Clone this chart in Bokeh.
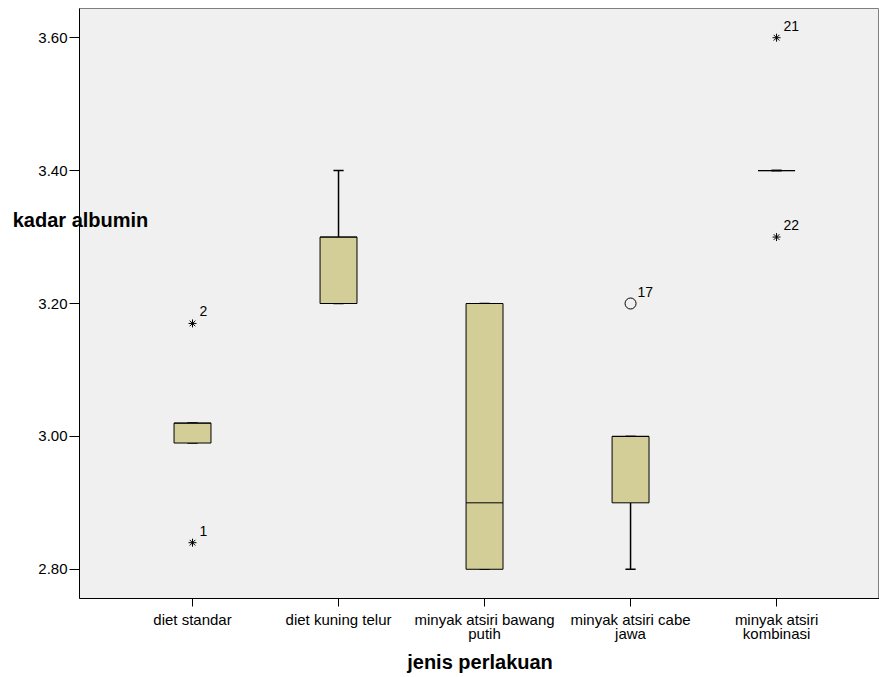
from bokeh.plotting import figure
from bokeh.models import Range1d, FixedTicker, Label
from bokeh.core.properties import value
from bokeh.embed import file_html
from bokeh.resources import INLINE

# ---- data ----
categories = ["diet standar", "diet kuning telur", "minyak atsiri bawang\nputih",
              "minyak atsiri cabe\njawa", "minyak atsiri\nkombinasi"]
q1 = [2.99, 3.20, 2.80, 2.90, 3.40]
median = [3.02, 3.30, 2.90, 3.00, 3.40]
q3 = [3.02, 3.30, 3.20, 3.00, 3.40]
whisker_low = [2.99, 3.20, 2.80, 2.80, 3.40]
whisker_high = [3.02, 3.40, 3.20, 3.00, 3.40]

outlier_group = [0, 0, 3, 4, 4]
outlier_value = [2.84, 3.17, 3.20, 3.60, 3.30]
outlier_label = ["1", "2", "17", "21", "22"]
outlier_extreme = [True, True, False, True, True]

y_ticks = [2.80, 3.00, 3.20, 3.40, 3.60]

FONT = "Liberation Sans"
xs = list(range(len(categories)))
bw = 0.253
cap = 0.035

p = figure(width=879, height=677, output_backend="svg", toolbar_location=None,
           x_range=Range1d(-0.774, 4.705), y_range=Range1d(2.756, 3.644),
           min_border_left=79, min_border_right=0, min_border_top=8, min_border_bottom=79)
p.background_fill_color = "#f0f0f0"
p.border_fill_color = "white"
p.outline_line_color = "#808080"
p.xgrid.visible = False
p.ygrid.visible = False

p.xaxis.ticker = FixedTicker(ticks=xs)
p.xaxis.major_label_overrides = {i: c for i, c in enumerate(categories)}
p.yaxis.ticker = FixedTicker(ticks=y_ticks)
p.yaxis.major_label_overrides = {t: f"{t:.2f}" for t in y_ticks}
for ax in (p.xaxis, p.yaxis):
    ax.axis_line_color = "black"
    ax.major_tick_line_color = "black"
    ax.minor_tick_line_color = None
    ax.major_tick_in = 0
    ax.major_label_text_font = FONT
    ax.major_label_text_font_size = "15px"
    ax.major_label_text_color = "black"
p.xaxis.major_tick_out = 8
p.xaxis.major_label_standoff = 4
p.xaxis.major_label_text_line_height = 0.87
p.yaxis.major_tick_out = 10
p.yaxis.major_label_standoff = 2

# y axis title, horizontal, overlapping the frame as in the original
p.yaxis.axis_label = "kadar albumin\n"
p.yaxis.axis_label_orientation = "horizontal"
p.yaxis.axis_label_standoff = -113
p.yaxis.axis_label_text_font = FONT
p.yaxis.axis_label_text_font_size = "20px"
p.yaxis.axis_label_text_font_style = "bold"
p.yaxis.axis_label_text_color = "black"
p.yaxis.axis_label_text_line_height = 7.55

# whiskers
p.segment(x0=xs, x1=xs, y0=q3, y1=whisker_high, line_color="black", line_width=1.5)
p.segment(x0=xs, x1=xs, y0=q1, y1=whisker_low, line_color="black", line_width=1.5)
p.segment(x0=[x - cap for x in xs], x1=[x + cap for x in xs], y0=whisker_high, y1=whisker_high,
          line_color="black", line_width=1.5)
p.segment(x0=[x - cap for x in xs], x1=[x + cap for x in xs], y0=whisker_low, y1=whisker_low,
          line_color="black", line_width=1.5)
# boxes
p.vbar(x=xs, width=bw, bottom=q1, top=q3, fill_color="#d3ce97", line_color="black", line_width=1)
p.segment(x0=[x - bw / 2 for x in xs], x1=[x + bw / 2 for x in xs], y0=median, y1=median,
          line_color="black", line_width=1)

# outliers
ext_x = [g for g, e in zip(outlier_group, outlier_extreme) if e]
ext_y = [v for v, e in zip(outlier_value, outlier_extreme) if e]
out_x = [g for g, e in zip(outlier_group, outlier_extreme) if not e]
out_y = [v for v, e in zip(outlier_value, outlier_extreme) if not e]
p.scatter(x=ext_x, y=ext_y, marker="asterisk", size=8, line_color="black", line_width=1)
p.scatter(x=out_x, y=out_y, marker="circle", size=11, fill_color=None, line_color="black", line_width=1)
p.text(x=outlier_group, y=outlier_value, text=outlier_label, x_offset=7, y_offset=-12,
       text_align="left", text_baseline="alphabetic", text_font=value(FONT),
       text_font_size="14px", text_color="black")

# x axis title (in the side panel so it is not clipped by the frame)
p.add_layout(Label(x=1.969, y=2.661, text="jenis perlakuan", text_align="center", text_baseline="middle",
                   text_font=FONT, text_font_size="20px", text_font_style="bold", text_color="black"),
             "below")

open("out.html", "w").write(file_html(p, INLINE))
